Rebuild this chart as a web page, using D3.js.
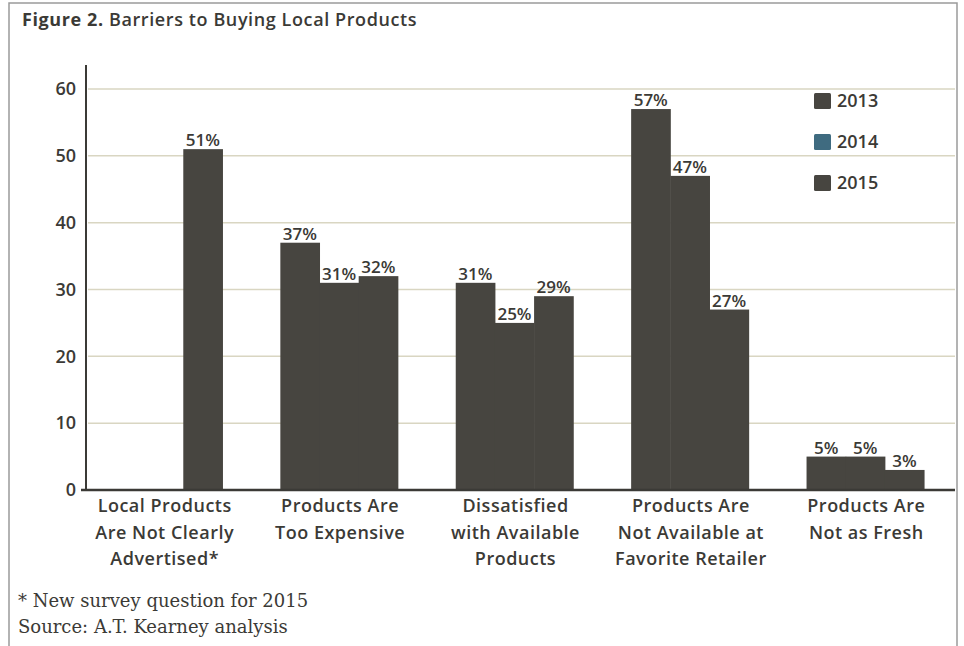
<!DOCTYPE html>
<html>
<head>
<meta charset="utf-8">
<script src="https://cdn.jsdelivr.net/npm/d3@7"></script>
<style>
body { margin: 0; background: #fff; }
svg { display: block; }
text { fill: #3b3a36; font-family: "Open Sans", "Noto Sans", sans-serif; }
</style>
</head>
<body>
<svg width="964" height="646"></svg>
<script>
var categories = [
    ["Local Products", "Are Not Clearly", "Advertised*"],
    ["Products Are", "Too Expensive"],
    ["Dissatisfied", "with Available", "Products"],
    ["Products Are", "Not Available at", "Favorite Retailer"],
    ["Products Are", "Not as Fresh"]
];
var years = ["2013", "2014", "2015"];
var v2013 = [null, 37, 31, 57, 5];
var v2014 = [null, 31, 25, 47, 5];
var v2015 = [51, 32, 29, 27, 3];
var yTicks = [0, 10, 20, 30, 40, 50, 60];

var series = [v2013, v2014, v2015];
var barColor = "#474540";
var legendColors = ["#474540", "#3f6b80", "#474540"];

var svg = d3.select("svg");

// frame
svg.append("rect")
    .attr("x", 9).attr("y", 3).attr("width", 948).attr("height", 680)
    .attr("fill", "none").attr("stroke", "#9a9a9a").attr("stroke-width", 1.5);

// title
var title = svg.append("text")
    .attr("x", 22).attr("y", 26)
    .attr("font-size", 18).attr("font-weight", 600)
    .attr("letter-spacing", 0.6);
title.append("tspan").attr("font-weight", 700).text("Figure 2.");
title.append("tspan").text(" Barriers to Buying Local Products");

var y = d3.scaleLinear().domain([0, 60]).range([490, 89]);

var x0 = d3.scaleBand()
    .domain(d3.range(categories.length))
    .range([76, 953])
    .paddingInner(0.33)
    .paddingOuter(0.165);

var x1 = d3.scaleBand()
    .domain(d3.range(years.length))
    .range([0, x0.bandwidth()]);

// gridlines
svg.append("g").selectAll("line")
    .data(yTicks.filter(function(d) { return d > 0; }))
    .enter().append("line")
    .attr("x1", 88).attr("x2", 955)
    .attr("y1", function(d) { return y(d); })
    .attr("y2", function(d) { return y(d); })
    .attr("stroke", "#d9d6c2").attr("stroke-width", 1.5);

// y labels
svg.append("g").selectAll("text")
    .data(yTicks)
    .enter().append("text")
    .attr("x", 76)
    .attr("y", function(d) { return y(d); })
    .attr("dy", "0.35em")
    .attr("text-anchor", "end")
    .attr("font-size", 18)
    .attr("font-weight", 600)
    .text(function(d) { return d; });

// bars
var groups = svg.append("g").selectAll("g")
    .data(categories.map(function(c, i) { return i; }))
    .enter().append("g")
    .attr("transform", function(i) { return "translate(" + x0(i) + ",0)"; });

var cells = groups.selectAll("g")
    .data(function(i) {
        return series.map(function(s, k) { return {k: k, v: s[i]}; })
            .filter(function(d) { return d.v !== null; });
    })
    .enter().append("g");

cells.append("rect")
    .attr("x", function(d) { return x1(d.k); })
    .attr("width", x1.bandwidth() + 0.5)
    .attr("y", function(d) { return y(d.v); })
    .attr("height", function(d) { return y(0) - y(d.v); })
    .attr("fill", barColor);

cells.append("text")
    .attr("x", function(d) { return x1(d.k) + x1.bandwidth() / 2; })
    .attr("y", function(d) { return y(d.v) - 3; })
    .attr("text-anchor", "middle")
    .attr("font-size", 17)
    .attr("font-weight", 600)
    .text(function(d) { return d.v + "%"; });

// axes lines
svg.append("line")
    .attr("x1", 86).attr("x2", 86).attr("y1", 65).attr("y2", 491)
    .attr("stroke", "#3b3a36").attr("stroke-width", 2);
svg.append("line")
    .attr("x1", 81).attr("x2", 955).attr("y1", 490).attr("y2", 490)
    .attr("stroke", "#3b3a36").attr("stroke-width", 2.5);

// category labels
var catLabels = svg.append("g").selectAll("text")
    .data(categories)
    .enter().append("text")
    .attr("x", function(d, i) { return x0(i) + x0.bandwidth() / 2 + 1; })
    .attr("y", 512)
    .attr("text-anchor", "middle")
    .attr("font-size", 18)
    .attr("font-weight", 600)
    .attr("letter-spacing", 0.5);
catLabels.selectAll("tspan")
    .data(function(d) { return d; })
    .enter().append("tspan")
    .attr("x", function() { return d3.select(this.parentNode).attr("x"); })
    .attr("dy", function(d, j) { return j === 0 ? 0 : 26.5; })
    .text(function(d) { return d; });

// legend
var legend = svg.append("g").selectAll("g")
    .data(years)
    .enter().append("g")
    .attr("transform", function(d, i) { return "translate(814," + (93 + i * 41) + ")"; });
legend.append("rect")
    .attr("width", 17).attr("height", 16).attr("rx", 1.5)
    .attr("fill", function(d, i) { return legendColors[i]; });
legend.append("text")
    .attr("x", 23).attr("y", 8).attr("dy", "0.36em")
    .attr("font-size", 18).attr("font-weight", 600)
    .text(function(d) { return d; });

// notes
svg.append("text")
    .attr("x", 18).attr("y", 607)
    .style("font-family", "'DejaVu Serif', serif")
    .attr("font-size", 18)
    .text("* New survey question for 2015");
svg.append("text")
    .attr("x", 18).attr("y", 633)
    .style("font-family", "'DejaVu Serif', serif")
    .attr("font-size", 18)
    .text("Source: A.T. Kearney analysis");
</script>
</body>
</html>
